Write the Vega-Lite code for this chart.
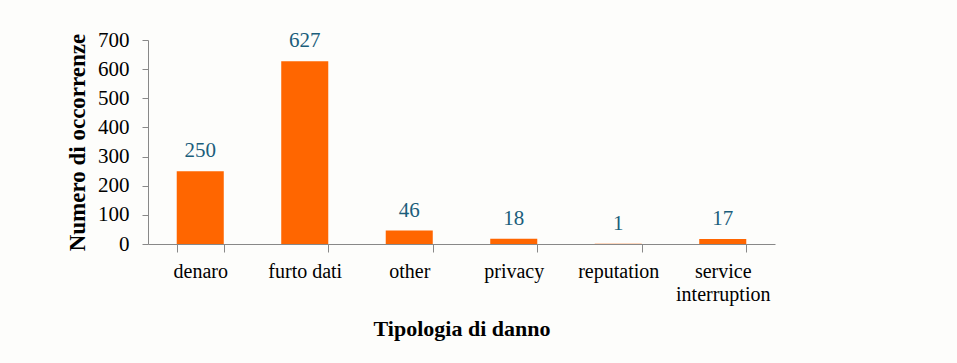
{
  "$schema": "https://vega.github.io/schema/vega-lite/v6.json",
  "width": 627,
  "height": 204,
  "autosize": {"type": "none"},
  "padding": {"left": 148, "top": 40, "right": 182, "bottom": 119},
  "background": "#fdfdfb",
  "config": {"view": {"stroke": null}, "font": "Liberation Serif"},
  "data": {"values": [
    {"tipo": "denaro", "n": 250},
    {"tipo": "furto dati", "n": 627},
    {"tipo": "other", "n": 46},
    {"tipo": "privacy", "n": 18},
    {"tipo": "reputation", "n": 1},
    {"tipo": "service interruption", "n": 17}
  ]},
  "encoding": {
    "x": {"field": "tipo", "type": "nominal", "sort": null,
      "scale": {"paddingInner": 0.55, "paddingOuter": 0.275},
      "axis": {"title": "Tipologia di danno", "labelAngle": 0, "tickBand": "extent",
        "labelExpr": "datum.label == 'service interruption' ? ['service','interruption'] : datum.label",
        "labelFont": "Liberation Serif", "labelFontSize": 20, "labelColor": "#000", "labelLineHeight": 23,
        "labelPadding": 9, "labelBaseline": "top",
        "domainColor": "#888", "tickColor": "#888", "tickSize": 8,
        "titleFont": "Liberation Serif", "titleFontSize": 22, "titleFontWeight": "bold", "titleColor": "#000",
        "titlePadding": 14}},
    "y": {"field": "n", "type": "quantitative",
      "scale": {"domain": [0, 700]},
      "axis": {"title": "Numero di occorrenze", "values": [0,100,200,300,400,500,600,700], "grid": false,
        "labelFont": "Liberation Serif", "labelFontSize": 21, "labelColor": "#000", "labelPadding": 13,
        "domainColor": "#888", "tickColor": "#888", "tickSize": 6,
        "titleFont": "Liberation Serif", "titleFontSize": 23, "titleFontWeight": "bold", "titleColor": "#000",
        "titlePadding": 8}}
  },
  "layer": [
    {"mark": {"type": "bar", "color": "#ff6600"}},
    {"mark": {"type": "text", "baseline": "bottom", "dy": -10, "font": "Liberation Serif", "fontSize": 21, "color": "#1b5e7b"},
     "encoding": {"text": {"field": "n", "type": "quantitative"}}}
  ]
}
